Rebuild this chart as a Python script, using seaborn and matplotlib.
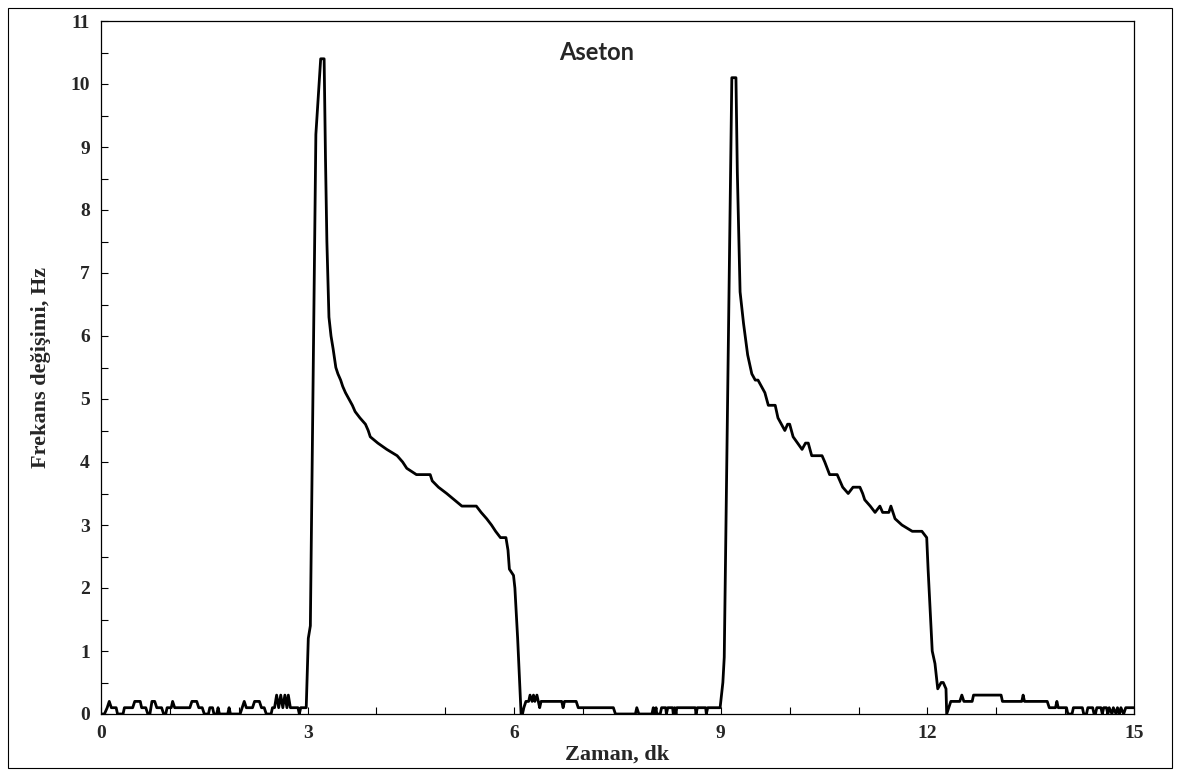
import matplotlib
matplotlib.use("Agg")
from matplotlib import pyplot as plt
from matplotlib.patches import Rectangle
from matplotlib.ticker import MultipleLocator
import pandas as pd
import seaborn as sns

# zaman (dk) ve frekans degisimi (Hz)
zaman = [
    0.00, 0.05, 0.09, 0.12, 0.15, 0.22, 0.24, 0.32, 0.34, 0.46, 0.49, 0.57,
    0.59, 0.65, 0.68, 0.71, 0.74, 0.78, 0.81, 0.88, 0.91, 0.94, 0.96, 1.02,
    1.04, 1.07, 1.29, 1.32, 1.39, 1.42, 1.47, 1.50, 1.56, 1.58, 1.62, 1.64,
    1.68, 1.70, 1.72, 1.84, 1.86, 1.88, 2.02, 2.05, 2.08, 2.11, 2.20, 2.23,
    2.30, 2.33, 2.37, 2.40, 2.47, 2.49, 2.52, 2.55, 2.58, 2.61, 2.64, 2.67,
    2.70, 2.72, 2.75, 2.86, 2.88, 2.90, 2.98,
    3.01, 3.04, 3.12, 3.19, 3.24, 3.26, 3.28, 3.31, 3.34, 3.37, 3.41, 3.44,
    3.48, 3.51, 3.55, 3.60, 3.65, 3.69, 3.76, 3.84, 3.88, 3.91, 4.02, 4.15,
    4.30, 4.38, 4.44, 4.58, 4.78, 4.81, 4.90, 5.02, 5.13, 5.24, 5.45, 5.52,
    5.60, 5.67, 5.73, 5.80, 5.88, 5.91, 5.93, 5.99, 6.01, 6.05, 6.10,
    6.12, 6.14, 6.17, 6.21, 6.23, 6.26, 6.28, 6.30, 6.33, 6.35, 6.37, 6.39,
    6.69, 6.71, 6.73, 6.90, 6.93, 7.44, 7.47, 7.76, 7.78, 7.81, 8.00, 8.02,
    8.04, 8.06, 8.07, 8.12, 8.14, 8.20, 8.21, 8.23, 8.30, 8.31, 8.33, 8.35,
    8.36, 8.63, 8.64, 8.66, 8.78, 8.79, 8.81, 8.99,
    9.03, 9.05, 9.16, 9.22, 9.24, 9.28, 9.33, 9.39, 9.45, 9.50, 9.54, 9.59,
    9.64, 9.69, 9.79, 9.83, 9.93, 9.97, 10.00, 10.05, 10.18, 10.23, 10.27,
    10.32, 10.47, 10.51, 10.58, 10.69, 10.77, 10.85, 10.92, 11.02, 11.06,
    11.09, 11.17, 11.24, 11.31, 11.35, 11.44, 11.47, 11.53, 11.63, 11.78,
    11.92, 11.99, 12.01, 12.07, 12.11, 12.15, 12.20, 12.23, 12.27, 12.28,
    12.31, 12.34, 12.47, 12.50, 12.53, 12.65, 12.67, 13.07, 13.09, 13.37,
    13.39, 13.41, 13.74, 13.77, 13.86, 13.88, 13.90, 14.02, 14.04, 14.10,
    14.12, 14.25, 14.27, 14.31, 14.33, 14.40, 14.42, 14.44, 14.46, 14.52,
    14.54, 14.56, 14.60, 14.62, 14.64, 14.68, 14.70, 14.74, 14.76, 14.79,
    14.81, 14.85, 14.88, 15.00,
]
frekans = [
    0.0, 0.0, 0.1, 0.2, 0.1, 0.1, 0.0, 0.0, 0.1, 0.1, 0.2, 0.2,
    0.1, 0.1, 0.0, 0.0, 0.2, 0.2, 0.1, 0.1, 0.0, 0.0, 0.1, 0.1,
    0.2, 0.1, 0.1, 0.2, 0.2, 0.1, 0.1, 0.0, 0.0, 0.1, 0.1, 0.0,
    0.0, 0.1, 0.0, 0.0, 0.1, 0.0, 0.0, 0.1, 0.2, 0.1, 0.1, 0.2,
    0.2, 0.1, 0.1, 0.0, 0.0, 0.1, 0.1, 0.3, 0.1, 0.3, 0.1, 0.3,
    0.1, 0.3, 0.1, 0.1, 0.0, 0.1, 0.1,
    1.2, 1.4, 9.2, 10.4, 10.4, 8.8, 7.5, 6.3, 6.0, 5.8, 5.5, 5.4,
    5.3, 5.2, 5.1, 5.0, 4.9, 4.8, 4.7, 4.6, 4.5, 4.4, 4.3, 4.2,
    4.1, 4.0, 3.9, 3.8, 3.8, 3.7, 3.6, 3.5, 3.4, 3.3, 3.3, 3.2,
    3.1, 3.0, 2.9, 2.8, 2.8, 2.6, 2.3, 2.2, 2.0, 1.2, 0.0,
    0.0, 0.1, 0.2, 0.2, 0.3, 0.2, 0.3, 0.2, 0.3, 0.2, 0.1, 0.2,
    0.2, 0.1, 0.2, 0.2, 0.1, 0.1, 0.0, 0.0, 0.1, 0.0, 0.0, 0.1,
    0.0, 0.1, 0.0, 0.0, 0.1, 0.1, 0.0, 0.1, 0.1, 0.0, 0.1, 0.0,
    0.1, 0.1, 0.0, 0.1, 0.1, 0.0, 0.1, 0.1,
    0.5, 0.9, 10.1, 10.1, 8.6, 6.7, 6.2, 5.7, 5.4, 5.3, 5.3, 5.2,
    5.1, 4.9, 4.9, 4.7, 4.5, 4.6, 4.6, 4.4, 4.2, 4.3, 4.3,
    4.1, 4.1, 4.0, 3.8, 3.8, 3.6, 3.5, 3.6, 3.6, 3.5,
    3.4, 3.3, 3.2, 3.3, 3.2, 3.2, 3.3, 3.1, 3.0, 2.9,
    2.9, 2.8, 2.3, 1.0, 0.8, 0.4, 0.5, 0.5, 0.4, 0.0,
    0.1, 0.2, 0.2, 0.3, 0.2, 0.2, 0.3, 0.3, 0.2, 0.2,
    0.3, 0.2, 0.2, 0.1, 0.1, 0.2, 0.1, 0.1, 0.0, 0.0,
    0.1, 0.1, 0.0, 0.0, 0.1, 0.1, 0.0, 0.0, 0.1, 0.1,
    0.0, 0.1, 0.1, 0.0, 0.1, 0.0, 0.1, 0.0, 0.1, 0.0,
    0.1, 0.0, 0.1, 0.1,
]

x_ticks = [0, 3, 6, 9, 12, 15]
y_ticks = list(range(0, 12))

sns.set_style("ticks")
plt.rcParams['font.family'] = ['Liberation Serif', 'DejaVu Serif']

data = pd.DataFrame({'zaman': zaman, 'frekans': frekans})

fig = plt.figure(figsize=(11.8, 7.72), dpi=100)
ax = fig.add_axes([101 / 1180, 1 - 714 / 772, (1134 - 101) / 1180, (714 - 21) / 772])

sns.lineplot(data=data, x='zaman', y='frekans', sort=False, estimator=None,
             color='black', linewidth=2.0, ax=ax)

ax.set_xlim(0, 15)
ax.set_ylim(0, 11)
ax.set_xticks(x_ticks)
ax.set_yticks(y_ticks)
ax.xaxis.set_minor_locator(MultipleLocator(1))
ax.yaxis.set_minor_locator(MultipleLocator(0.5))
ax.tick_params(which='both', direction='in', length=5, width=0.8, color='black')
ax.tick_params(axis='both', labelsize=14, pad=8)
for lbl in ax.get_xticklabels() + ax.get_yticklabels():
    lbl.set_fontweight('bold')

for sp in ax.spines.values():
    sp.set_visible(True)
    sp.set_color('black')
    sp.set_linewidth(0.9)

ax.set_xlabel('Zaman, dk', fontsize=16, fontweight='bold', labelpad=2)
ax.set_ylabel('Frekans değişimi, Hz', fontsize=16, fontweight='bold', labelpad=14)

ax.text(0.48, 0.955, 'Aseton', transform=ax.transAxes, ha='center', va='center',
        fontsize=17, fontweight='bold', family=['Lato', 'DejaVu Sans'])

# dis cerceve
fig.patches.append(Rectangle((8 / 1180, 4 / 772), 1164 / 1180, 760 / 772,
                             transform=fig.transFigure, fill=False,
                             edgecolor='black', linewidth=0.8))

fig.savefig('out.png', dpi=100)
